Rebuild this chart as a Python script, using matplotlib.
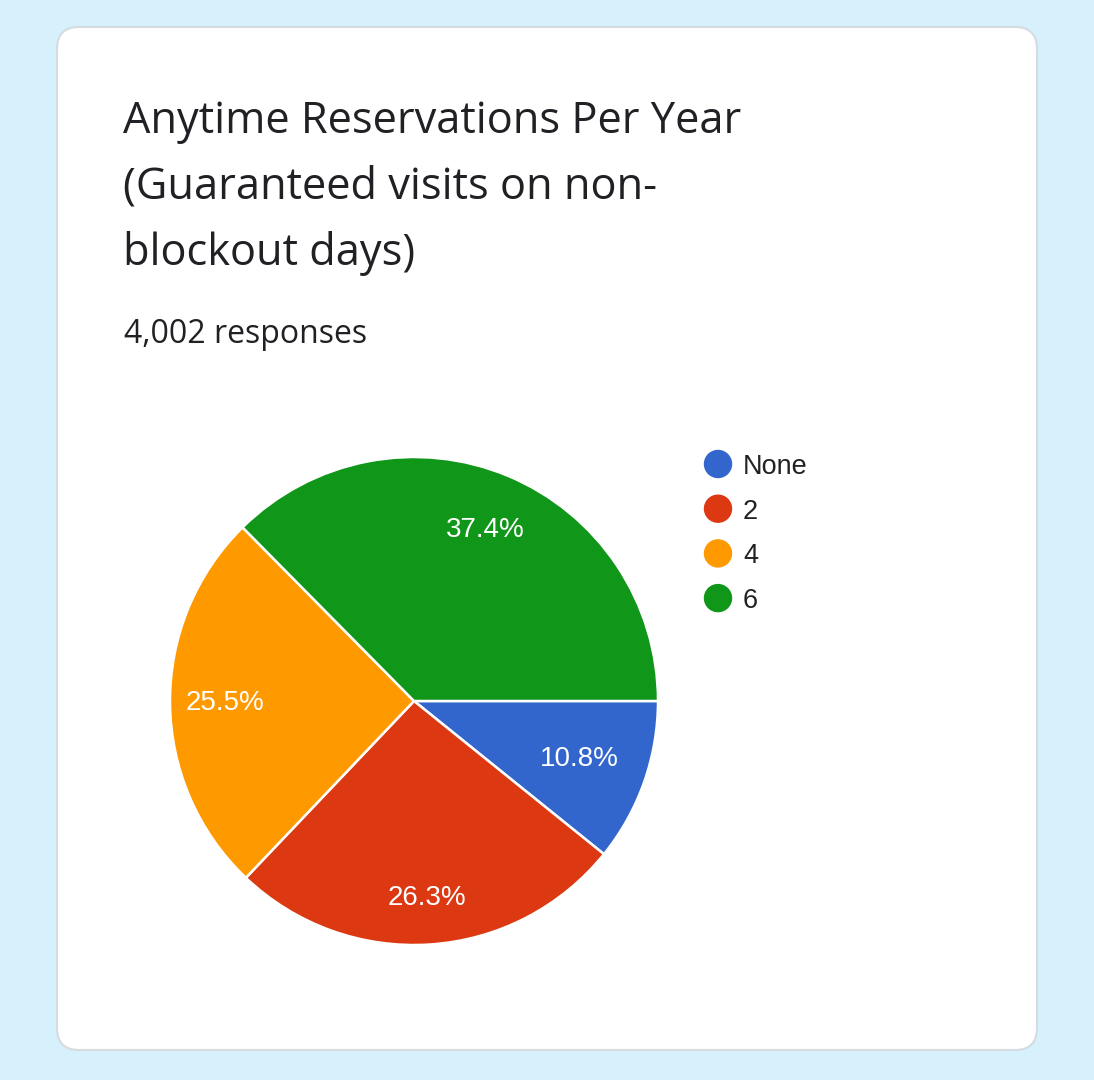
import numpy as np
import matplotlib.pyplot as plt
from matplotlib.patches import FancyBboxPatch

plt.rcParams['font.family'] = ['Open Sans', 'DejaVu Sans']

title_lines = ["Anytime Reservations Per Year", "(Guaranteed visits on non-", "blockout days)"]
subtitle = "4,002 responses"
labels = ["None", "2", "4", "6"]
shares = [10.8, 26.3, 25.5, 37.4]
colors = ["#3366cc", "#dc3912", "#ff9900", "#109618"]
# how far out each percentage sits, as a fraction of the radius
label_dist = [0.72, 0.81, 0.775, 0.76]

W, H = 1094, 1080
fig = plt.figure(figsize=(W / 100, H / 100), dpi=100)
fig.patch.set_facecolor("#d7f1fc")

# background layer in pixel coords
bg = fig.add_axes([0, 0, 1, 1])
bg.set_xlim(0, W)
bg.set_ylim(H, 0)
bg.axis("off")
card = FancyBboxPatch((57, 27), 980, 1023, boxstyle="round,pad=0,rounding_size=22",
                      facecolor="white", edgecolor="#d5dbe0", linewidth=1.5)
bg.add_patch(card)

for i, line in enumerate(title_lines):
    bg.text(123, 133 + i * 66, line, fontsize=31.2, color="#202124", va="baseline", ha="left")
bg.text(124, 343, subtitle, fontsize=23, color="#202124", va="baseline", ha="left")

# legend
for i, (lab, col) in enumerate(zip(labels, colors)):
    y = 464 + i * 44.7
    bg.add_patch(plt.Circle((718, y), 13.5, color=col))
    bg.text(743, y, lab, fontsize=19.5, color="#222222", va="center_baseline", ha="left",
            family=['Liberation Sans', 'DejaVu Sans'])

# pie
cx, cy, r = 414, 701, 244
ax = fig.add_axes([(cx - r) / W, (H - cy - r) / H, 2 * r / W, 2 * r / H])
wedges, texts, autotexts = ax.pie(
    shares, colors=colors, startangle=0, counterclock=False,
    autopct=lambda p: f"{p:.1f}%", pctdistance=0.76,
    wedgeprops=dict(edgecolor="white", linewidth=1.8),
    textprops=dict(color="white", fontsize=20, family=['Liberation Sans', 'DejaVu Sans']))
for w, t, d in zip(wedges, autotexts, label_dist):
    a = np.deg2rad((w.theta1 + w.theta2) / 2)
    t.set_position((d * np.cos(a), d * np.sin(a)))
ax.set_xlim(-1, 1)
ax.set_ylim(-1, 1)
ax.set_aspect("equal")

fig.savefig("out.png", dpi=100, facecolor=fig.get_facecolor())
